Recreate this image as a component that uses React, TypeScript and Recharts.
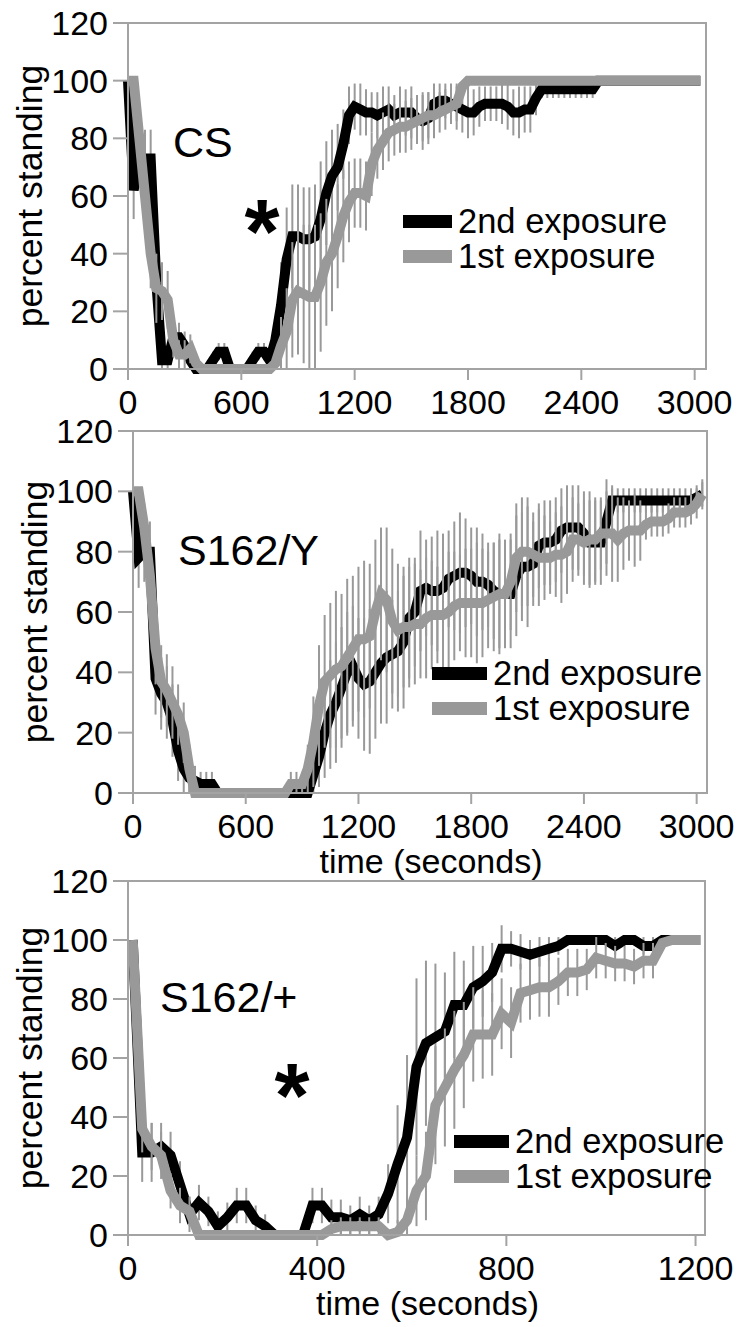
import React from "react";
import { LineChart, Line, XAxis, YAxis, ErrorBar, Legend, ReferenceArea } from "recharts";

const FONT = "'Liberation Sans', Arial, Helvetica, sans-serif";
const BLACK = "#000000";
const GRAY = "#999999";
const FRAME = "#a3a3a3";

const seriesNames = ["2nd exposure", "1st exposure"];
const panelNames = ["CS", "S162/Y", "S162/+"];
const yTicks = [0, 20, 40, 60, 80, 100, 120];
const xTicksLong = [0, 600, 1200, 1800, 2400, 3000];
const xTicksShort = [0, 400, 800, 1200];

// sample times (seconds)
const timeLong = [
  0, 30, 60, 90, 120, 150, 180, 210, 240, 270,
  300, 330, 360, 390, 420, 450, 480, 510, 540, 570,
  600, 630, 660, 690, 720, 750, 780, 810, 840, 870,
  900, 930, 960, 990, 1020, 1050, 1080, 1110, 1140, 1170,
  1200, 1230, 1260, 1290, 1320, 1350, 1380, 1410, 1440, 1470,
  1500, 1530, 1560, 1590, 1620, 1650, 1680, 1710, 1740, 1770,
  1800, 1830, 1860, 1890, 1920, 1950, 1980, 2010, 2040, 2070,
  2100, 2130, 2160, 2190, 2220, 2250, 2280, 2310, 2340, 2370,
  2400, 2430, 2460, 2490, 2520, 2550, 2580, 2610, 2640, 2670,
  2700, 2730, 2760, 2790, 2820, 2850, 2880, 2910, 2940, 2970,
  3000, 3030,
];
const timeShort = [
  10, 30, 50, 70, 90, 110, 130, 150, 170, 190,
  210, 230, 250, 270, 290, 310, 330, 350, 370, 390,
  410, 430, 450, 470, 490, 510, 530, 550, 570, 590,
  610, 630, 650, 670, 690, 710, 730, 750, 770, 790,
  810, 830, 850, 870, 890, 910, 930, 950, 970, 990,
  1010, 1030, 1050, 1070, 1090, 1110, 1130, 1150, 1170, 1190,
  1210,
];

// CS
const csSecond = [
  100, 62, 73, 73, 73, 30, 3, 3, 11, 11,
  8, 3, 0, 0, 0, 3, 6, 6, 0, 0,
  0, 0, 3, 6, 6, 3, 10, 22, 38, 46,
  46, 45, 45, 46, 52, 61, 67, 70, 78, 88,
  91, 90, 89, 89, 88, 89, 90, 88, 89, 89,
  89, 87, 86, 87, 92, 93, 93, 92, 91, 90,
  89, 89, 91, 92, 92, 92, 92, 91, 89, 89,
  90, 90, 94, 97, 97, 97, 97, 97, 97, 97,
  97, 97, 97, 100, 100, 100, 100, 100, 100, 100,
  100, 100, 100, 100, 100, 100, 100, 100, 100, 100,
  100, 100,
];
const csFirst = [
  100, 100, 80, 60, 40, 28, 27, 24, 10, 5,
  5, 7, 2, 0, 0, 0, 0, 0, 0, 0,
  0, 0, 0, 0, 0, 0, 2, 8, 13, 24,
  27, 26, 25, 25, 30, 37, 40, 46, 53, 58,
  61, 61, 60, 71, 76, 79, 82, 83, 84, 84,
  85, 86, 87, 88, 88, 89, 90, 91, 92, 98,
  100, 100, 100, 100, 100, 100, 100, 100, 100, 100,
  100, 100, 100, 100, 100, 100, 100, 100, 100, 100,
  100, 100, 100, 100, 100, 100, 100, 100, 100, 100,
  100, 100, 100, 100, 100, 100, 100, 100, 100, 100,
  100, 100,
];
const csSecondErr = [
  0, 10, 10, 10, 10, 12, 5, 5, 5, 5,
  5, 4, 0, 0, 0, 3, 3, 3, 0, 0,
  0, 0, 3, 3, 3, 4, 8, 15, 18, 18,
  18, 18, 18, 18, 20, 18, 16, 15, 12, 10,
  8, 9, 8, 7, 8, 9, 8, 7, 9, 8,
  9, 8, 10, 9, 7, 6, 6, 7, 8, 8,
  9, 8, 7, 6, 6, 6, 7, 8, 8, 9,
  8, 8, 6, 3, 3, 3, 3, 3, 3, 3,
  3, 3, 3, 0, 0, 0, 0, 0, 0, 0,
  0, 0, 0, 0, 0, 0, 0, 0, 0, 0,
  0, 0,
];
const csFirstErr = [
  0, 0, 10, 10, 12, 12, 10, 10, 6, 5,
  5, 5, 3, 0, 0, 0, 0, 0, 0, 0,
  0, 0, 0, 0, 0, 0, 4, 10, 15, 20,
  22, 24, 25, 25, 24, 22, 20, 18, 16, 14,
  12, 12, 12, 11, 10, 10, 10, 9, 9, 9,
  9, 8, 8, 8, 8, 7, 7, 6, 6, 0,
  0, 0, 0, 0, 0, 0, 0, 0, 0, 0,
  0, 0, 0, 0, 0, 0, 0, 0, 0, 0,
  0, 0, 0, 0, 0, 0, 0, 0, 0, 0,
  0, 0, 0, 0, 0, 0, 0, 0, 0, 0,
  0, 0,
];

// S162/Y
const sySecond = [
  100, 78, 80, 80, 38, 33, 30, 24, 14, 8,
  5, 4, 3, 3, 3, 0, 0, 0, 0, 0,
  0, 0, 0, 0, 0, 0, 0, 0, 0, 0,
  0, 0, 6, 12, 20, 26, 30, 35, 40, 42,
  38, 36, 37, 40, 43, 45, 46, 47, 50, 58,
  60, 67, 68, 67, 67, 68, 71, 72, 73, 73,
  72, 70, 70, 69, 67, 66, 66, 66, 72, 75,
  75, 76, 82, 83, 83, 84, 87, 88, 88, 88,
  86, 83, 83, 83, 90, 97, 97, 97, 97, 97,
  97, 97, 97, 97, 97, 97, 97, 97, 97, 97,
  98, 99,
];
const syFirst = [
  100, 100, 88, 72, 48, 37, 34, 30, 26, 20,
  8, 0, 0, 0, 0, 0, 0, 0, 0, 0,
  0, 0, 0, 0, 0, 0, 0, 0, 3, 3,
  3, 8, 17, 29, 37, 39, 41, 42, 45, 48,
  51, 51, 52, 60, 66, 64, 57, 54, 55, 55,
  56, 56, 58, 59, 59, 59, 60, 62, 63, 63,
  63, 63, 63, 64, 65, 66, 66, 70, 78, 80,
  80, 79, 78, 78, 78, 79, 79, 80, 84, 84,
  83, 84, 84, 86, 86, 86, 84, 86, 87, 87,
  87, 89, 90, 90, 90, 91, 93, 93, 93, 94,
  96, 99,
];
const sySecondErr = [
  0, 10, 10, 10, 12, 12, 12, 12, 10, 8,
  6, 5, 4, 4, 4, 0, 0, 0, 0, 0,
  0, 0, 0, 0, 0, 0, 0, 0, 0, 0,
  0, 0, 6, 10, 15, 18, 20, 20, 20, 20,
  20, 22, 24, 22, 20, 22, 18, 20, 22, 20,
  18, 20, 16, 18, 20, 18, 16, 18, 20, 18,
  16, 18, 16, 14, 16, 18, 16, 18, 20, 18,
  20, 14, 14, 14, 14, 14, 14, 14, 14, 14,
  14, 14, 14, 14, 14, 4, 4, 4, 4, 4,
  4, 4, 4, 4, 4, 4, 4, 4, 4, 4,
  4, 4,
];
const syFirstErr = [
  0, 0, 8, 10, 12, 12, 12, 12, 10, 10,
  8, 0, 0, 0, 0, 0, 0, 0, 0, 0,
  0, 0, 0, 0, 0, 0, 0, 0, 4, 4,
  4, 8, 15, 20, 22, 24, 26, 24, 26, 24,
  24, 26, 24, 24, 22, 24, 24, 22, 20, 20,
  20, 18, 20, 18, 16, 18, 20, 18, 16, 18,
  18, 20, 18, 16, 18, 20, 18, 16, 18, 18,
  18, 14, 16, 14, 12, 14, 16, 14, 14, 12,
  14, 16, 14, 12, 14, 16, 14, 12, 10, 12,
  10, 5, 5, 5, 5, 5, 5, 5, 5, 5,
  5, 5,
];

// S162/+
const spSecond = [
  100, 28, 28, 30, 27, 17, 7, 11, 8, 3,
  6, 10, 10, 5, 3, 0, 0, 0, 0, 10,
  10, 6, 6, 5, 7, 5, 7, 14, 24, 33,
  57, 65, 67, 69, 78, 78, 84, 86, 89, 97,
  97, 96, 95, 96, 97, 98, 100, 100, 100, 100,
  100, 98, 100, 100, 98, 98, 100, 100, 100, 100,
  100,
];
const spFirst = [
  100, 36, 30, 27, 15, 10, 8, 0, 0, 0,
  0, 0, 0, 0, 0, 0, 0, 0, 0, 0,
  0, 2, 3, 3, 3, 3, 3, 0, 1, 5,
  15, 20, 44, 50, 56, 61, 68, 68, 68, 75,
  72, 82, 83, 84, 84, 86, 89, 89, 90, 94,
  93, 92, 92, 91, 93, 93, 99, 100, 100, 100,
  100,
];
const spSecondErr = [
  0, 10, 10, 8, 8, 8, 6, 6, 5, 5,
  5, 6, 6, 5, 4, 0, 0, 0, 0, 6,
  6, 6, 6, 5, 6, 5, 6, 10, 20, 28,
  30, 28, 25, 20, 18, 15, 14, 12, 10, 8,
  6, 6, 5, 5, 4, 3, 0, 0, 0, 0,
  0, 3, 0, 0, 3, 3, 0, 0, 0, 0,
  0,
];
const spFirstErr = [
  0, 8, 8, 8, 6, 6, 5, 0, 0, 0,
  0, 0, 0, 0, 0, 0, 0, 0, 0, 0,
  0, 3, 3, 3, 3, 3, 3, 2, 4, 8,
  12, 15, 20, 20, 20, 18, 16, 15, 14, 12,
  12, 10, 10, 10, 10, 8, 8, 8, 7, 7,
  6, 6, 6, 6, 6, 6, 0, 0, 0, 0,
  0,
];

const Y_MAX = 120;

function buildRows(time: number[], second: number[], first: number[], secondErr: number[], firstErr: number[]) {
  return time.map((t, i) => ({
    t,
    second: second[i],
    first: first[i],
    secondErr: [Math.min(secondErr[i], second[i]), Math.min(secondErr[i], Y_MAX - second[i])],
    firstErr: [Math.min(firstErr[i], first[i]), Math.min(firstErr[i], Y_MAX - first[i])],
  }));
}

const panels = [
  {
    name: panelNames[0],
    rows: buildRows(timeLong, csSecond, csFirst, csSecondErr, csFirstErr),
    xMax: 3060, xTicks: xTicksLong,
    top: 0, height: 440, plotTop: 23, plotBottom: 369, plotLeft: 128, plotRight: 706,
    legendX: 403, legendY: 204, swatch: 49,
    title: { x: 173, y: 157 }, star: { x: 262, y: 263 }, timeLabel: false,
  },
  {
    name: panelNames[1],
    rows: buildRows(timeLong, sySecond, syFirst, sySecondErr, syFirstErr),
    xMax: 3055, xTicks: xTicksLong,
    top: 400, height: 490, plotTop: 431, plotBottom: 793, plotLeft: 133, plotRight: 707,
    legendX: 432, legendY: 656, swatch: 55,
    title: { x: 178, y: 565 }, star: null, timeLabel: true,
  },
  {
    name: panelNames[2],
    rows: buildRows(timeShort, spSecond, spFirst, spSecondErr, spFirstErr),
    xMax: 1220, xTicks: xTicksShort,
    top: 850, height: 477, plotTop: 881, plotBottom: 1235, plotLeft: 128, plotRight: 705,
    legendX: 454, legendY: 1124, swatch: 55,
    title: { x: 160, y: 1012 }, star: { x: 292, y: 1127 }, timeLabel: true,
  },
];

const Y_AXIS_W = 100;
const X_AXIS_H = 60;

function LegendBox({ payload, swatch }: any) {
  const items = seriesNames
    .map((n) => (payload || []).find((p: any) => p.value === n))
    .filter(Boolean);
  return (
    <div>
      {items.map((e: any) => (
        <div key={e.value} style={{ display: "flex", alignItems: "center", height: 35 }}>
          <span style={{ display: "inline-block", width: swatch, height: 13, background: e.color, marginRight: 6 }} />
          <span style={{ fontFamily: FONT, fontSize: 34.5, color: "#000", lineHeight: "35px", whiteSpace: "nowrap" }}>
            {e.value}
          </span>
        </div>
      ))}
    </div>
  );
}

function Panel({ p }: any) {
  const margin = {
    top: p.plotTop - p.top,
    left: p.plotLeft - Y_AXIS_W,
    right: 741 - p.plotRight,
    bottom: p.top + p.height - p.plotBottom - X_AXIS_H,
  };
  const tick = { fill: "#000", fontSize: 34, fontFamily: FONT };
  return (
    <div style={{ position: "absolute", left: 0, top: p.top }}>
      <LineChart width={741} height={p.height} data={p.rows} margin={margin}>
        <ReferenceArea x1={0} x2={p.xMax} y1={0} y2={Y_MAX} fill="none" stroke={FRAME} strokeWidth={2} />
        <XAxis
          type="number"
          dataKey="t"
          domain={[0, p.xMax]}
          ticks={p.xTicks}
          interval={0}
          height={X_AXIS_H}
          tickSize={11}
          tickMargin={10}
          axisLine={{ stroke: FRAME, strokeWidth: 2 }}
          tickLine={{ stroke: FRAME, strokeWidth: 2 }}
          tick={tick}
        />
        <YAxis
          type="number"
          domain={[0, Y_MAX]}
          ticks={yTicks}
          interval={0}
          width={Y_AXIS_W}
          tickSize={15}
          tickMargin={5}
          axisLine={{ stroke: FRAME, strokeWidth: 2 }}
          tickLine={{ stroke: FRAME, strokeWidth: 2 }}
          tick={tick}
        />
        <Legend
          layout="vertical"
          align="center"
          verticalAlign="middle"
          wrapperStyle={{ left: p.legendX, top: p.legendY - p.top, width: "auto" }}
          content={(props: any) => <LegendBox {...props} swatch={p.swatch} />}
        />
        <Line
          type="linear"
          dataKey="second"
          name={seriesNames[0]}
          stroke={BLACK}
          strokeWidth={10}
          dot={false}
          activeDot={false}
          isAnimationActive={false}
        >
          <ErrorBar dataKey="secondErr" direction="y" width={0} stroke={GRAY} strokeWidth={2} isAnimationActive={false} />
        </Line>
        <Line
          type="linear"
          dataKey="first"
          name={seriesNames[1]}
          stroke={GRAY}
          strokeWidth={10}
          dot={false}
          activeDot={false}
          isAnimationActive={false}
        >
          <ErrorBar dataKey="firstErr" direction="y" width={0} stroke={GRAY} strokeWidth={2} isAnimationActive={false} />
        </Line>
      </LineChart>
    </div>
  );
}

export default function App() {
  return (
    <div style={{ position: "absolute", left: 0, top: 0, width: 741, height: 1327, background: "#fff", overflow: "hidden" }}>
      {panels.map((p) => (
        <Panel key={p.name} p={p} />
      ))}
      <svg width={741} height={1327} style={{ position: "absolute", left: 0, top: 0, pointerEvents: "none" }}>
        {panels.map((p) => {
          const cy = (p.plotTop + p.plotBottom) / 2;
          return (
            <g key={p.name} fontFamily={FONT} fill="#000">
              <text x={p.title.x} y={p.title.y} fontSize={43}>{p.name}</text>
              {p.star && (
                <text x={p.star.x} y={p.star.y} fontSize={90} fontWeight="bold" textAnchor="middle">*</text>
              )}
              <text transform={`translate(${p.plotLeft - 86},${cy}) rotate(-90)`} fontSize={35.5} textAnchor="middle">
                percent standing
              </text>
              {p.timeLabel && (
                <text x={(p.plotLeft + p.plotRight) / 2 + 11} y={p.plotBottom + 80} fontSize={34} textAnchor="middle">
                  time (seconds)
                </text>
              )}
            </g>
          );
        })}
      </svg>
    </div>
  );
}
